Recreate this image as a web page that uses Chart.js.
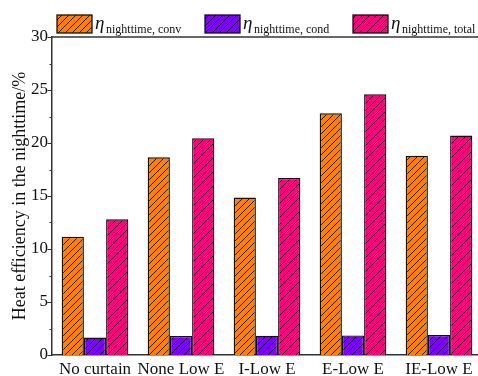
<!DOCTYPE html>
<html>
<head>
<meta charset="utf-8">
<script src="https://cdn.jsdelivr.net/npm/chart.js@4/dist/chart.umd.min.js"></script>
<style>
  html, body { margin: 0; padding: 0; background: #fff; overflow: hidden; width: 478px; height: 376px; }
  #wrap { width: 478px; height: 376px; overflow: hidden; }
  canvas { display: block; }
</style>
</head>
<body>
<div id="wrap"><canvas id="c" width="482" height="376"></canvas></div>
<script>
// Curtain configurations on the x axis
const categories = ['No curtain', 'None Low E', 'I-Low E', 'E-Low E', 'IE-Low E'];

// Night-time heat efficiency (%) for each configuration
const convValues  = [11.15, 18.65, 14.85, 22.8, 18.8];
const condValues  = [1.65, 1.8, 1.82, 1.85, 1.88];
const totalValues = [12.8, 20.45, 16.7, 24.6, 20.7];

// Legend labels: symbol plus subscript
const seriesSymbol = 'η';
const seriesSubs = ['nighttime, conv', 'nighttime, cond', 'nighttime, total'];

// Y axis ticks
const yMajorTicks = [0, 5, 10, 15, 20, 25, 30];
const yMinorTicks = [2.5, 7.5, 12.5, 17.5, 22.5, 27.5];

const SERIF = '"Liberation Serif", "DejaVu Serif", serif';
const colors = ['#ff8000', '#8000ff', '#ff0080'];

// Solid colour with thin diagonal "/" hatching
function hatch(color) {
  const s = 7;
  const c = document.createElement('canvas');
  c.width = s; c.height = s;
  const g = c.getContext('2d');
  g.fillStyle = color;
  g.fillRect(0, 0, s, s);
  g.strokeStyle = 'rgba(0,0,0,0.9)';
  g.lineWidth = 0.9;
  g.beginPath();
  g.moveTo(-1, s + 1); g.lineTo(s + 1, -1);
  g.moveTo(-1, 1); g.lineTo(1, -1);
  g.moveTo(s - 1, s + 1); g.lineTo(s + 1, s - 1);
  g.stroke();
  return g.createPattern(c, 'repeat');
}
const patterns = colors.map(hatch);

const frame = {
  id: 'frame',
  afterDraw(chart) {
    const ctx = chart.ctx;
    const { left, right, top, bottom } = chart.chartArea;
    const y = chart.scales.y;
    ctx.save();
    ctx.strokeStyle = '#333';
    ctx.lineWidth = 1.5;
    // top border
    ctx.beginPath();
    ctx.moveTo(left, top); ctx.lineTo(right + 2, top);
    ctx.stroke();
    // outward tick marks on the value axis
    ctx.lineWidth = 1.2;
    ctx.beginPath();
    yMajorTicks.forEach(v => {
      const py = Math.round(y.getPixelForValue(v)) + 0.5;
      ctx.moveTo(left - 4.5, py); ctx.lineTo(left, py);
    });
    yMinorTicks.forEach(v => {
      const py = Math.round(y.getPixelForValue(v)) + 0.5;
      ctx.moveTo(left - 2.5, py); ctx.lineTo(left, py);
    });
    ctx.stroke();

    // legend
    const boxX = [57, 205, 353];
    chart.data.datasets.forEach((ds, i) => {
      const bx = boxX[i], by = 15, bw = 35, bh = 18;
      ctx.fillStyle = ds.backgroundColor;
      ctx.fillRect(bx, by, bw, bh);
      ctx.strokeStyle = '#111';
      ctx.lineWidth = 1.3;
      ctx.strokeRect(bx, by, bw, bh);
      ctx.fillStyle = '#111';
      ctx.textBaseline = 'alphabetic';
      ctx.textAlign = 'left';
      ctx.font = 'italic 19px ' + SERIF;
      ctx.fillText(seriesSymbol, bx + 38, 29);
      ctx.font = '12px ' + SERIF;
      ctx.fillText(seriesSubs[i], bx + 49, 33);
    });
    ctx.restore();
  }
};

new Chart(document.getElementById('c'), {
  type: 'bar',
  data: {
    labels: categories,
    datasets: [
      { label: seriesSymbol + seriesSubs[0], data: convValues,  backgroundColor: patterns[0] },
      { label: seriesSymbol + seriesSubs[1], data: condValues,  backgroundColor: patterns[1] },
      { label: seriesSymbol + seriesSubs[2], data: totalValues, backgroundColor: patterns[2] }
    ].map(d => Object.assign(d, {
      borderColor: '#111', borderWidth: 1.4,
      barPercentage: 1.0, categoryPercentage: 0.775
    }))
  },
  options: {
    responsive: false,
    animation: false,
    devicePixelRatio: 1,
    layout: { padding: { top: 37, right: 0, bottom: 0, left: 0 } },
    plugins: { legend: { display: false }, tooltip: { enabled: false } },
    scales: {
      x: {
        grid: { display: false, drawTicks: false },
        border: { display: true, color: '#333', width: 1.5 },
        ticks: { color: '#111', font: { family: SERIF, size: 17 }, padding: 4, maxRotation: 0, autoSkip: false },
        afterFit(s) { s.height = 21; }
      },
      y: {
        min: 0, max: 30,
        grid: { display: false, drawTicks: false },
        border: { display: true, color: '#333', width: 1.5 },
        ticks: { stepSize: 5, color: '#111', font: { family: SERIF, size: 17 }, padding: 4 },
        title: {
          display: true, text: 'Heat efficiency in the nighttime/%',
          color: '#111', font: { family: SERIF, size: 18 }, padding: { top: 9, bottom: 0 }
        },
        afterFit(s) { s.width = 52; }
      }
    }
  },
  plugins: [frame]
});
</script>
</body>
</html>
